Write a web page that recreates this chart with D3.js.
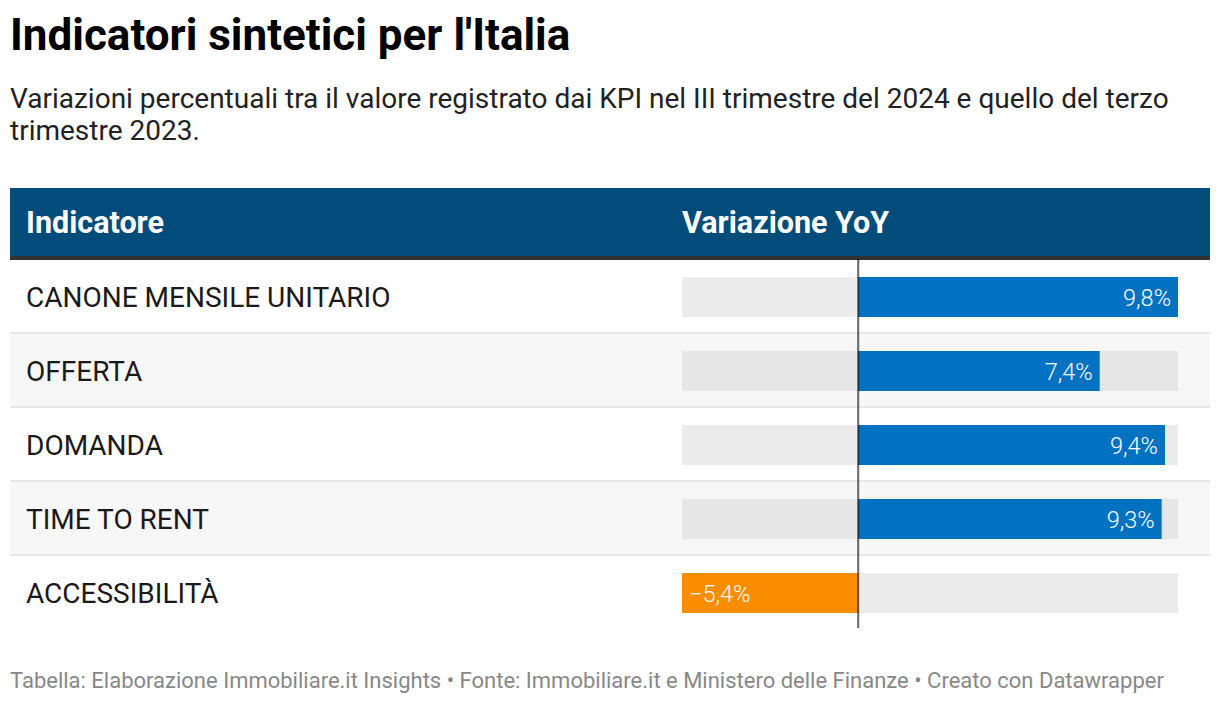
<!DOCTYPE html>
<html>
<head>
<meta charset="utf-8">
<script src="https://cdn.jsdelivr.net/npm/d3@7"></script>
<style>
  html, body { margin: 0; padding: 0; background: #fff; }
  svg { display: block; font-family: Roboto, "Noto Sans", sans-serif; }
</style>
</head>
<body>
<svg id="chart" width="1220" height="704"></svg>
<script>
const title = "Indicatori sintetici per l'Italia";
const subtitleLines = [
  "Variazioni percentuali tra il valore registrato dai KPI nel III trimestre del 2024 e quello del terzo",
  "trimestre 2023."
];
const headers = ["Indicatore", "Variazione YoY"];
const categories = ["CANONE MENSILE UNITARIO", "OFFERTA", "DOMANDA", "TIME TO RENT", "ACCESSIBILITÀ"];
const values = [9.8, 7.4, 9.4, 9.3, -5.4];
const footer = "Tabella: Elaborazione Immobiliare.it Insights • Fonte: Immobiliare.it e Ministero delle Finanze • Creato con Datawrapper";

const svg = d3.select("#chart");

// Title & subtitle
svg.append("text").attr("x", 10).attr("y", 50)
  .attr("font-size", 44).attr("font-weight", 700).attr("fill", "#000")
  .text(title);
const sub = svg.append("text").attr("font-size", 28).attr("fill", "#222");
subtitleLines.forEach((l, i) => {
  sub.append("tspan").attr("x", 10).attr("y", 108 + i * 32).text(l);
});

// Table geometry
const tableX = 10, tableW = 1200;
const headerTop = 188, headerH = 68, borderH = 4;
const rowTop = headerTop + headerH + borderH;
const rowH = 74;

// header
svg.append("rect").attr("x", tableX).attr("y", headerTop).attr("width", tableW).attr("height", headerH).attr("fill", "#024c7b");
svg.append("rect").attr("x", tableX).attr("y", headerTop + headerH).attr("width", tableW).attr("height", borderH).attr("fill", "#333");
svg.append("text").attr("x", 26).attr("y", headerTop + headerH / 2 + 11)
  .attr("font-size", 30.5).attr("font-weight", 700).attr("fill", "#fff").text(headers[0]);
svg.append("text").attr("x", 682).attr("y", headerTop + headerH / 2 + 11)
  .attr("font-size", 30.5).attr("font-weight", 700).attr("fill", "#fff").text(headers[1]);

const y = d3.scaleBand().domain(categories).range([rowTop, rowTop + rowH * categories.length]).paddingInner(0);
const x = d3.scaleLinear().domain([d3.min(values), d3.max(values)]).range([682, 1178]);
const barH = 40;

const rows = svg.append("g").selectAll("g").data(categories).join("g")
  .attr("transform", d => `translate(0,${y(d)})`);

rows.append("rect").attr("x", tableX).attr("y", 0).attr("width", tableW).attr("height", y.bandwidth())
  .attr("fill", (d, i) => i % 2 === 1 ? "#f7f7f7" : "#fff");
rows.filter((d, i) => i < categories.length - 1)
  .append("rect").attr("x", tableX).attr("y", y.bandwidth() - 2).attr("width", tableW).attr("height", 2)
  .attr("fill", "#e8e8e8");

rows.append("text").attr("x", 26).attr("y", y.bandwidth() / 2 + 10)
  .attr("font-size", 28).attr("fill", "#1a1a1a").text(d => d);

// background bars
rows.append("rect").attr("x", x.range()[0]).attr("y", (y.bandwidth() - barH) / 2)
  .attr("width", x.range()[1] - x.range()[0]).attr("height", barH)
  .attr("fill", (d, i) => i % 2 === 1 ? "#e6e6e6" : "#ececec");

// value bars
rows.append("rect")
  .attr("x", (d, i) => Math.min(x(0), x(values[i])))
  .attr("y", (y.bandwidth() - barH) / 2)
  .attr("width", (d, i) => Math.abs(x(values[i]) - x(0)))
  .attr("height", barH)
  .attr("fill", (d, i) => values[i] >= 0 ? "#0172c2" : "#fa8c00");

const fmt = v => (v < 0 ? "\u2212" : "") + d3.format(".1f")(Math.abs(v)).replace(".", ",") + "%";
rows.append("text")
  .attr("x", (d, i) => values[i] >= 0 ? x(values[i]) - 7 : x(values[i]) + 7)
  .attr("y", y.bandwidth() / 2 + 8.5)
  .attr("text-anchor", (d, i) => values[i] >= 0 ? "end" : "start")
  .attr("font-size", 23.5).attr("font-weight", 300).attr("fill", "#fff")
  .text((d, i) => fmt(values[i]));

// zero line
svg.append("line").attr("x1", x(0)).attr("x2", x(0))
  .attr("y1", rowTop - 1).attr("y2", rowTop + rowH * categories.length - 2)
  .attr("stroke", "#000").attr("stroke-opacity", 0.6).attr("stroke-width", 2);

// footer
svg.append("text").attr("x", 10).attr("y", 688)
  .attr("font-size", 22).attr("fill", "#888").text(footer);
</script>
</body>
</html>
